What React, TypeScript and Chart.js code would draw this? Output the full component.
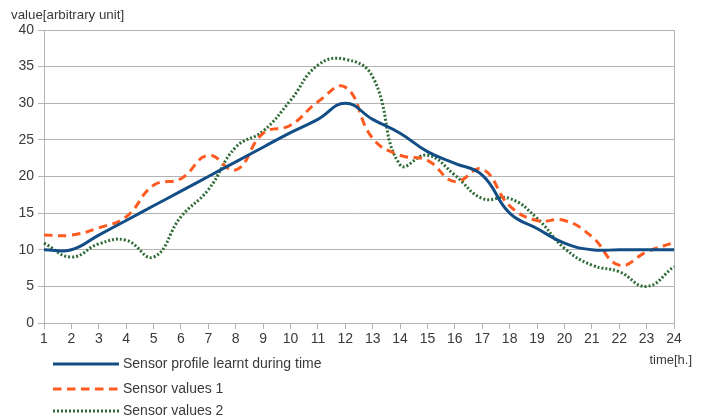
import React, { useEffect, useRef } from "react";
import { Chart, registerables } from "chart.js";

Chart.register(...registerables);

const HOURS = ["1","2","3","4","5","6","7","8","9","10","11","12","13","14","15","16","17","18","19","20","21","22","23","24"];
const PROFILE = [10, 10, 12, 14, 16, 18, 20, 22, 24, 26, 27.8, 30, 27.8, 25.9, 23.4, 21.8, 20.2, 15, 12.9, 10.9, 10, 10, 10, 10];
const SENSOR_1 = [12, 12, 13, 14.5, 18.8, 19.7, 22.9, 20.9, 25.9, 27, 30.2, 32.2, 25.2, 22.9, 22.2, 19.3, 21, 16, 14, 14, 11.8, 7.9, 9.7, 11];
const SENSOR_2 = [10.9, 9, 10.8, 11.3, 9, 14.5, 18.2, 24, 26.2, 30.4, 35.2, 36, 33.6, 21.6, 22.9, 20.2, 17, 17, 14.3, 10.2, 7.9, 7, 5, 7.7];
const SERIES_NAMES = ["Sensor profile learnt during time", "Sensor values 1", "Sensor values 2"];
const Y_TITLE = "value[arbitrary unit]";
const X_TITLE = "time[h.]";

const GRID = "#b3b3b3";
const TEXT = "#3a3a3a";
const FONT = "Liberation Sans";

const overlayPlugin = {
  id: "overlayText",
  afterDraw(chart: any) {
    const ctx = chart.ctx;
    ctx.save();
    // y axis title
    ctx.fillStyle = TEXT;
    ctx.font = `13.3px "${FONT}"`;
    ctx.textBaseline = "alphabetic";
    ctx.textAlign = "left";
    ctx.fillText(Y_TITLE, 11, 19);
    // x axis title
    ctx.font = `13px "${FONT}"`;
    ctx.textAlign = "right";
    ctx.fillText(X_TITLE, 692, 364);
    // legend
    const rows = [364, 389, 411];
    chart.data.datasets.forEach((ds: any, i: number) => {
      const y = rows[i];
      ctx.beginPath();
      ctx.setLineDash(ds.borderDash || []);
      ctx.lineWidth = ds.borderWidth;
      ctx.strokeStyle = ds.borderColor;
      ctx.lineCap = "butt";
      ctx.moveTo(53, y);
      ctx.lineTo(119, y);
      ctx.stroke();
      ctx.setLineDash([]);
      ctx.fillStyle = TEXT;
      ctx.font = `14px "${FONT}"`;
      ctx.textAlign = "left";
      ctx.textBaseline = "middle";
      ctx.fillText(ds.label, 123, y);
    });
    ctx.restore();
  },
};

export default function App() {
  const ref = useRef<HTMLCanvasElement | null>(null);
  useEffect(() => {
    document.body.style.margin = "0";
    const chart = new Chart(ref.current as HTMLCanvasElement, {
      type: "line",
      data: {
        labels: HOURS,
        datasets: [
          {
            label: SERIES_NAMES[0],
            data: PROFILE,
            borderColor: "#124d86",
            borderWidth: 3,
            pointRadius: 0,
            tension: 0.45,
            fill: false,
          },
          {
            label: SERIES_NAMES[1],
            data: SENSOR_1,
            borderColor: "#ff5a1f",
            borderWidth: 3,
            borderDash: [8.5, 5.5],
            pointRadius: 0,
            tension: 0.45,
            fill: false,
          },
          {
            label: SERIES_NAMES[2],
            data: SENSOR_2,
            borderColor: "#2e6b35",
            borderWidth: 3,
            borderDash: [2, 2],
            pointRadius: 0,
            tension: 0.45,
            fill: false,
          },
        ],
      },
      options: {
        animation: false,
        responsive: true,
        maintainAspectRatio: false,
        layout: { padding: { top: 30, right: 31, bottom: 74, left: 0 } },
        plugins: {
          legend: { display: false },
          title: { display: false },
          tooltip: { enabled: false },
        },
        scales: {
          x: {
            type: "category",
            offset: false,
            afterFit: (s: any) => {
              s.height = 22;
            },
            grid: {
              drawOnChartArea: true,
              color: (c: any) => (c.index === HOURS.length - 1 ? GRID : "rgba(0,0,0,0)"),
              tickColor: GRID,
              tickLength: 6,
              lineWidth: 1,
            },
            border: { color: GRID },
            ticks: {
              color: TEXT,
              font: { family: FONT, size: 14 },
              padding: 2,
              maxRotation: 0,
              autoSkip: false,
            },
          },
          y: {
            min: 0,
            max: 40,
            afterFit: (s: any) => {
              s.width = 44;
            },
            grid: { color: GRID, tickColor: GRID, tickLength: 6, lineWidth: 1 },
            border: { color: GRID },
            ticks: {
              stepSize: 5,
              color: TEXT,
              font: { family: FONT, size: 14 },
              padding: 4,
            },
          },
        },
      },
      plugins: [overlayPlugin],
    });
    return () => chart.destroy();
  }, []);
  return (
    <div style={{ position: "fixed", left: 0, top: 0, width: 705, height: 419 }}>
      <canvas ref={ref} />
    </div>
  );
}
